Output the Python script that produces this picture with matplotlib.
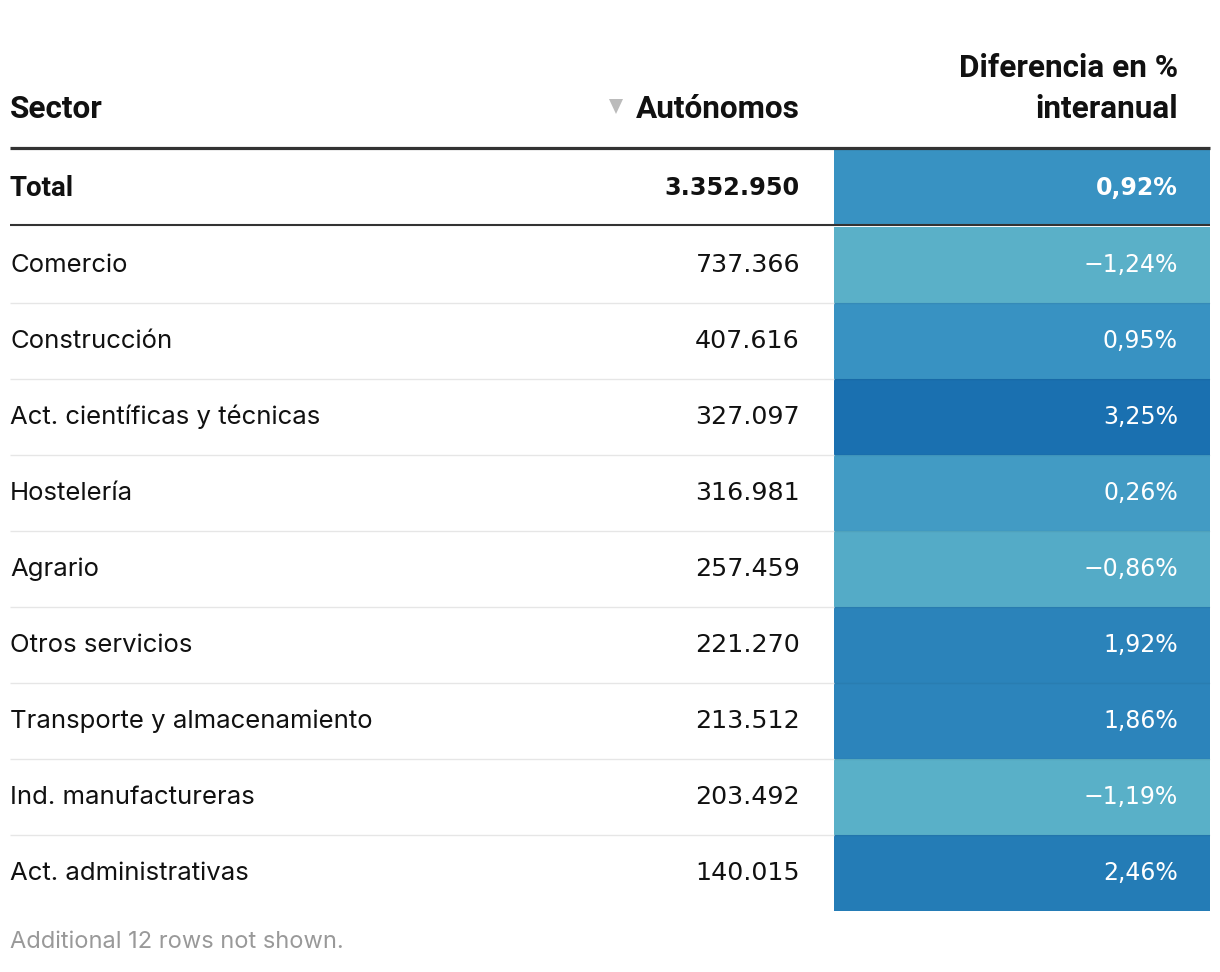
import matplotlib.pyplot as plt
from matplotlib.colors import LinearSegmentedColormap, Normalize
from matplotlib.patches import Rectangle, Polygon

sectores = ["Comercio", "Construcción", "Act. científicas y técnicas", "Hostelería",
            "Agrario", "Otros servicios", "Transporte y almacenamiento",
            "Ind. manufactureras", "Act. administrativas"]
autonomos = ["737.366", "407.616", "327.097", "316.981", "257.459",
             "221.270", "213.512", "203.492", "140.015"]
diferencia = [-1.24, 0.95, 3.25, 0.26, -0.86, 1.92, 1.86, -1.19, 2.46]
total_autonomos = "3.352.950"
total_diferencia = 0.92

cmap = LinearSegmentedColormap.from_list(
    "azules", [(0.0, "#5ab0c8"), (0.48, "#3892c2"), (1.0, "#1a70b0")])
norm = Normalize(vmin=-1.24, vmax=3.25)

def fmt(v):
    s = f"{abs(v):.2f}".replace(".", ",") + "%"
    return ("\u2212" if v < 0 else "") + s

body_font = ['Inter', 'DejaVu Sans']
head_font = ['Roboto', 'DejaVu Sans']
num_font = ['DejaVu Sans']
plt.rcParams['font.family'] = body_font

fig = plt.figure(figsize=(12.2, 9.72), dpi=100)
ax = fig.add_axes([0, 0, 1, 1])
ax.set_xlim(0, 1220)
ax.set_ylim(972, 0)
ax.axis("off")

x_left, x_num, x_cell, x_pct, x_right = 10, 800, 834, 1178, 1210
row_h = 76
head_fs = 22.7
body_fs = 18.5
num_fs = 18.3
pct_fs = 17

# cabecera
hd = dict(fontsize=head_fs, fontweight="bold", color="#111111", va="center", family=head_font)
ax.text(x_left, 109, "Sector", **hd)
ax.text(x_num, 109, "Autónomos", ha="right", **hd)
ax.add_patch(Polygon([[609, 99], [623, 99], [616, 114]], closed=True, color="#bbbbbb", lw=0))
ax.text(x_pct, 68, "Diferencia en %", ha="right", **hd)
ax.text(x_pct, 109, "interanual", ha="right", **hd)

# fila total
top = 150
ax.add_patch(Rectangle((x_cell, top), x_right - x_cell, row_h, color=cmap(norm(total_diferencia)), lw=0))
yc = top + row_h / 2
ax.text(x_left, yc, "Total", fontsize=20, fontweight="bold", color="#111111", va="center",
        family=head_font)
ax.text(x_num, yc, total_autonomos, fontsize=17.3, fontweight="bold", color="#111111",
        va="center", ha="right", family=num_font)
ax.text(x_pct, yc, fmt(total_diferencia), fontsize=pct_fs, fontweight="bold", color="white",
        va="center", ha="right", family=num_font)

# filas
start = 227
for i, (s, a, d) in enumerate(zip(sectores, autonomos, diferencia)):
    top = start + i * row_h
    ax.add_patch(Rectangle((x_cell, top), x_right - x_cell, row_h, color=cmap(norm(d)), lw=0))
    yc = top + row_h / 2
    ax.text(x_left, yc, s, fontsize=body_fs, color="#111111", va="center")
    ax.text(x_num, yc, a, fontsize=num_fs, color="#111111", va="center", ha="right", family=num_font)
    ax.text(x_pct, yc, fmt(d), fontsize=pct_fs, color="white", va="center", ha="right", family=num_font)
    if i > 0:
        ax.plot([x_left, x_cell], [top, top], color="#e6e6e6", lw=1, solid_capstyle="butt")
        ax.plot([x_cell, x_right], [top, top], color="black", alpha=0.05, lw=1, solid_capstyle="butt")

ax.plot([x_left, x_right], [148, 148], color="#333333", lw=2.3, solid_capstyle="butt")
ax.plot([x_left, x_right], [225, 225], color="#333333", lw=1.5, solid_capstyle="butt")

ax.text(x_left, 942, "Additional 12 rows not shown.", fontsize=17, color="#999999", va="center")

fig.savefig("out.png", dpi=100, facecolor="white")
